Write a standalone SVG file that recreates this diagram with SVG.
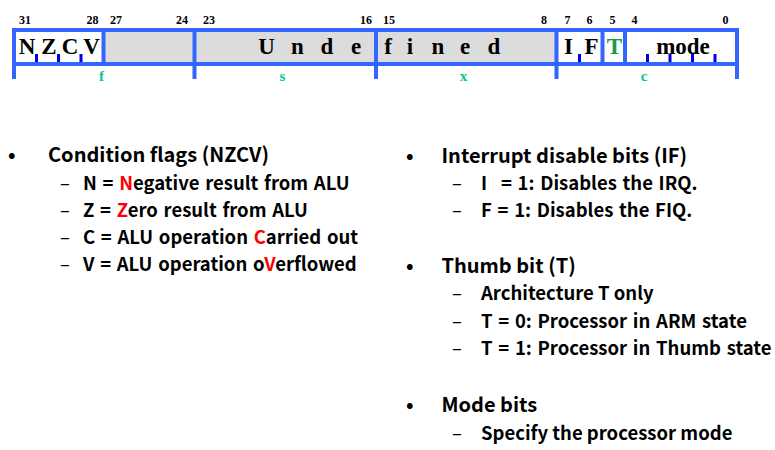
<svg xmlns="http://www.w3.org/2000/svg" width="775" height="450" viewBox="0 0 775 450">
<style>
.bn{font-family:"Liberation Serif",serif;font-weight:bold;font-size:12px;fill:#000;text-anchor:middle}
.big{font-family:"Liberation Serif",serif;font-weight:bold;font-size:23px;fill:#000;text-anchor:middle}
.lab{font-family:"Liberation Serif",serif;font-weight:bold;font-size:15px;fill:#00c896;text-anchor:middle}
.bl{stroke:#3366ff;stroke-width:4;fill:none}
.tk{fill:#0000dd}
.h{font-family:"Noto Sans CJK KR","Noto Sans",sans-serif;font-weight:bold;font-size:20px;fill:#000}
.s{font-family:"Noto Sans CJK KR","Noto Sans",sans-serif;font-weight:bold;font-size:18.5px;word-spacing:1.5px;fill:#000}
.d{font-family:"Noto Sans CJK KR","Noto Sans",sans-serif;font-weight:normal;font-size:18.5px;fill:#000}
.r{fill:#ff0000}
</style>
<rect width="775" height="450" fill="#fff"/>
<g id="register">
  <rect x="103.5" y="30" width="453" height="34" fill="#dcdcdc"/>
  <rect class="bl" x="14" y="30" width="723" height="34"/>
  <path class="bl" d="M103.5 30V64M194.5 30V64M376 30V64M556.5 30V64M602.5 30V64M625 30V64"/>
  <path class="bl" d="M14 64V79M194.5 64V79M376 64V79M556.5 64V79M737 64V79"/>
  <g>
    <rect class="tk" x="35" y="54" width="3" height="8"/>
    <rect class="tk" x="57" y="54" width="3" height="8"/>
    <rect class="tk" x="79.5" y="54" width="3" height="8"/>
    <rect class="tk" x="578" y="54" width="3" height="8"/>
    <rect class="tk" x="646" y="54" width="3" height="8"/>
    <rect class="tk" x="668.5" y="54" width="3" height="8"/>
    <rect class="tk" x="691" y="54" width="3" height="8"/>
    <rect class="tk" x="713.5" y="54" width="3" height="8"/>
  </g>
  <g>
    <text class="bn" x="25" y="24">31</text>
    <text class="bn" x="92.5" y="24">28</text>
    <text class="bn" x="116" y="24">27</text>
    <text class="bn" x="182" y="24">24</text>
    <text class="bn" x="209" y="24">23</text>
    <text class="bn" x="366" y="24">16</text>
    <text class="bn" x="389" y="24">15</text>
    <text class="bn" x="544" y="24">8</text>
    <text class="bn" x="567.5" y="24">7</text>
    <text class="bn" x="589.5" y="24">6</text>
    <text class="bn" x="612.5" y="24">5</text>
    <text class="bn" x="634.5" y="24">4</text>
    <text class="bn" x="725.5" y="24">0</text>
  </g>
  <text class="big" x="27 38 49 59.5 70 81 91.5" y="54">N Z C V</text>
  <text class="big" x="266.5 282 297.5 312 327 341.5 356 372 388 399 410 424 438 451.5 465 479.5 494" y="54">U n d e f i n e d</text>
  <text class="big" x="568.5 580 591.5" y="54">I F</text>
  <text class="big" x="614.5" y="54" style="fill:#1a9946">T</text>
  <text class="big" x="683" y="54">mode</text>
  <text class="lab" x="101.5" y="81">f</text>
  <text class="lab" x="282.5" y="81">s</text>
  <text class="lab" x="463.5" y="81">x</text>
  <text class="lab" x="644" y="81">c</text>
</g>
<g id="condition-flags">
  <text class="h" x="8" y="162">•</text>
  <text class="h" x="48" y="162">Condition flags (NZCV)</text>
  <text class="d" x="60" y="189.5">–</text>
  <text class="s" x="83" y="189.5">N = <tspan class="r">N</tspan>egative result from ALU</text>
  <text class="d" x="60" y="216.5">–</text>
  <text class="s" x="83" y="216.5">Z = <tspan class="r">Z</tspan>ero result from ALU</text>
  <text class="d" x="60" y="243.5">–</text>
  <text class="s" x="83" y="243.5">C = ALU operation <tspan class="r">C</tspan>arried out</text>
  <text class="d" x="60" y="270.5">–</text>
  <text class="s" x="83" y="270.5">V = ALU operation o<tspan class="r">V</tspan>erflowed</text>
</g>
<g id="interrupt-bits">
  <text class="h" x="406" y="163">•</text>
  <text class="h" x="441.5" y="163">Interrupt disable bits (IF)</text>
  <text class="d" x="452" y="190">–</text>
  <text class="s" x="481" y="190">I <tspan x="501">= 1: Disables the IRQ.</tspan></text>
  <text class="d" x="452" y="217">–</text>
  <text class="s" x="481" y="217">F = 1: Disables the FIQ.</text>
</g>
<g id="thumb-bit">
  <text class="h" x="406" y="273">•</text>
  <text class="h" x="441.5" y="273">Thumb bit (T)</text>
  <text class="d" x="452" y="300">–</text>
  <text class="s" x="481" y="300" style="word-spacing:0">Architecture T only</text>
  <text class="d" x="452" y="327.5">–</text>
  <text class="s" x="481" y="327.5">T = 0: Processor in ARM state</text>
  <text class="d" x="452" y="355">–</text>
  <text class="s" x="481" y="355">T = 1: Processor in Thumb state</text>
</g>
<g id="mode-bits">
  <text class="h" x="406" y="411.5">•</text>
  <text class="h" x="441.5" y="411.5">Mode bits</text>
  <text class="d" x="452" y="439.5">–</text>
  <text class="s" x="481" y="439.5" style="word-spacing:0">Specify the processor mode</text>
</g>
<g id="connectors"></g>
</svg>
